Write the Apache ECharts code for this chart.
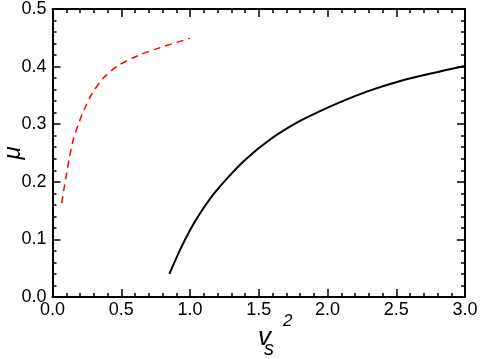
<!DOCTYPE html>
<html>
<head>
<meta charset="utf-8">
<script src="https://cdn.jsdelivr.net/npm/echarts@6/dist/echarts.min.js"></script>
<style>
  html, body { margin: 0; padding: 0; background: #fff; }
  #chart { width: 480px; height: 359px; }
</style>
</head>
<body>
<div id="chart"></div>
<script>
// solid black branch
const blackX = [0.85, 0.93, 1.00, 1.07, 1.17, 1.27, 1.41, 1.58, 1.78, 1.95, 2.08, 2.29, 2.53, 2.77, 3.00];
const blackY = [0.040, 0.083, 0.116, 0.144, 0.178, 0.206, 0.240, 0.273, 0.303, 0.323, 0.337, 0.357, 0.375, 0.389, 0.401];
// dashed red branch
const redX = [0.067, 0.085, 0.103, 0.125, 0.151, 0.188, 0.230, 0.285, 0.370, 0.467, 0.612, 0.782, 1.0];
const redY = [0.163, 0.190, 0.215, 0.245, 0.273, 0.300, 0.325, 0.352, 0.380, 0.400, 0.418, 0.433, 0.449];

const font = 'Liberation Sans';
const chart = echarts.init(document.getElementById('chart'));

const frame = (show, margin) => ({
  axisLine: { show: true, onZero: false, lineStyle: { color: '#000', width: 2 } },
  axisTick: { show: true, inside: true, length: 8, lineStyle: { color: '#000', width: 1.5 } },
  minorTick: { show: true, splitNumber: 5, length: 4, lineStyle: { color: '#000', width: 1.5 } },
  splitLine: { show: false },
  axisLabel: {
    show: show, color: '#000', fontFamily: font, fontSize: 18, margin: margin,
    formatter: v => v.toFixed(1)
  }
});

const option = {
  animation: false,
  grid: { left: 52.5, right: 15, top: 9, bottom: 62, containLabel: false, outerBoundsMode: 'none' },
  xAxis: [
    Object.assign({ type: 'value', min: 0, max: 3, interval: 0.5, position: 'bottom' }, frame(true, 4)),
    Object.assign({ type: 'value', min: 0, max: 3, interval: 0.5, position: 'top' }, frame(false, 4))
  ],
  yAxis: [
    Object.assign({ type: 'value', min: 0, max: 0.5, interval: 0.1, position: 'left' }, frame(true, 6)),
    Object.assign({ type: 'value', min: 0, max: 0.5, interval: 0.1, position: 'right' }, frame(false, 6))
  ],
  graphic: [
    { type: 'text', x: 13.5, y: 153, rotation: Math.PI / 2,
      style: { text: 'μ', font: 'italic 24px ' + font, fill: '#000', textAlign: 'center', textVerticalAlign: 'middle' } },
    { type: 'text', style: { x: 258, y: 338, text: 'v', font: 'italic 26px ' + font, fill: '#000', textVerticalAlign: 'middle' } },
    { type: 'text', style: { x: 264, y: 349, text: 's', font: 'italic 20px ' + font, fill: '#000', textVerticalAlign: 'middle' } },
    { type: 'text', style: { x: 283, y: 321, text: '2', font: 'italic 17px ' + font, fill: '#000', textVerticalAlign: 'middle' } }
  ],
  series: [
    {
      type: 'line', smooth: 0.3, symbol: 'none',
      data: blackX.map((x, i) => [x, blackY[i]]),
      lineStyle: { color: '#000', width: 2 }
    },
    {
      type: 'line', smooth: 0.3, symbol: 'none',
      data: redX.map((x, i) => [x, redY[i]]),
      lineStyle: { color: '#ff0000', width: 1.5, type: [7, 5] }
    }
  ]
};
chart.setOption(option);
</script>
</body>
</html>
